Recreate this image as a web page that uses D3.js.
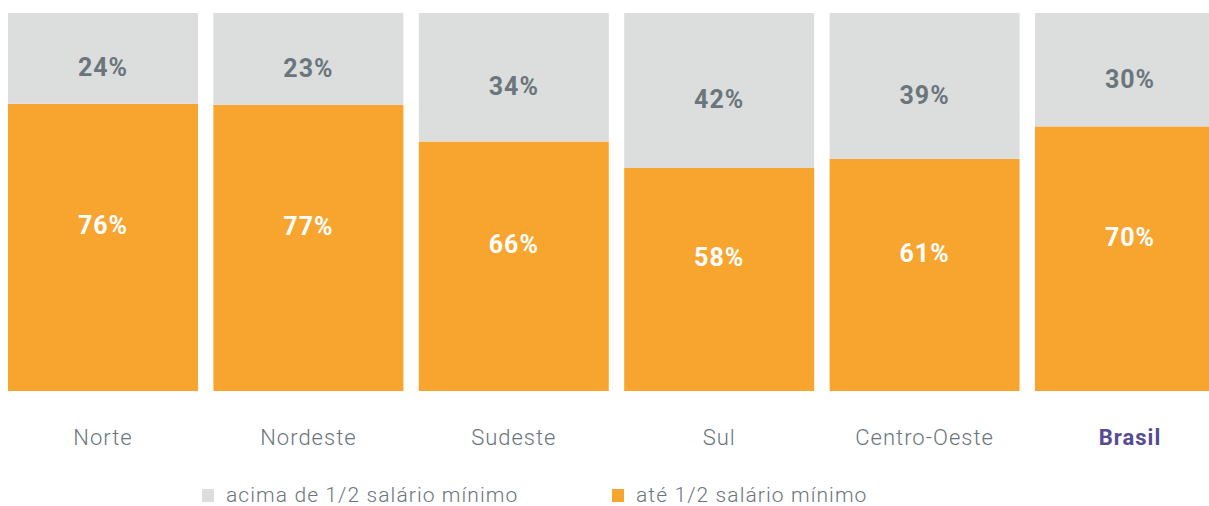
<!DOCTYPE html>
<html>
<head>
<meta charset="utf-8">
<script src="https://cdn.jsdelivr.net/npm/d3@7"></script>
<style>
  html, body { margin: 0; padding: 0; background: #fff; }
  svg { display: block; overflow: hidden; }
  text { font-family: Roboto, "DejaVu Sans", sans-serif; }
</style>
</head>
<body>
<svg id="chart"></svg>
<script>
// regiões e participação (%) — altura das barras, rótulos como impressos
const regions = ['Norte', 'Nordeste', 'Sudeste', 'Sul', 'Centro-Oeste', 'Brasil'];
const shareBelow = [76, 75.7, 66, 59, 61.4, 70];   // até 1/2 salário mínimo
const labelBelow = ['76%', '77%', '66%', '58%', '61%', '70%'];
const labelAbove = ['24%', '23%', '34%', '42%', '39%', '30%'];
const seriesNames = ['acima de 1/2 salário mínimo', 'até 1/2 salário mínimo'];

const width = 1209, height = 506;
const colors = { above: '#dcdddd', below: '#f8a530', text: '#6a767c', brasil: '#574b90' };

const svg = d3.select('#chart')
  .attr('width', width)
  .attr('height', height);

const x = d3.scaleBand()
  .domain(regions)
  .range([8, 1225])
  .paddingInner(0.075)
  .paddingOuter(0);

const y = d3.scaleLinear()
  .domain([0, 100])
  .range([391, 13]);

const rows = regions.map((r, i) => ({
  region: r,
  below: shareBelow[i],
  above: 100 - shareBelow[i],
  labelBelow: labelBelow[i],
  labelAbove: labelAbove[i]
}));

const stack = d3.stack().keys(['below', 'above'])(rows);

const groups = svg.append('g')
  .selectAll('g')
  .data(stack)
  .enter().append('g')
  .attr('fill', d => colors[d.key]);

groups.selectAll('rect')
  .data(d => d)
  .enter().append('rect')
  .attr('x', d => x(d.data.region))
  .attr('width', x.bandwidth())
  .attr('y', d => y(d[1]))
  .attr('height', d => y(d[0]) - y(d[1]));

// rótulos dentro das barras
const labels = svg.append('g');
labels.selectAll('.lbl-above')
  .data(stack[1])
  .enter().append('text')
  .attr('class', 'lbl-above')
  .attr('x', d => x(d.data.region) + x.bandwidth() / 2)
  .attr('y', d => (y(d[0]) + y(d[1])) / 2 + 18)
  .attr('text-anchor', 'middle')
  .attr('font-size', 25)
  .attr('font-weight', 700)
  .attr('letter-spacing', 1)
  .attr('fill', colors.text)
  .text(d => d.data.labelAbove);

labels.selectAll('.lbl-below')
  .data(stack[0])
  .enter().append('text')
  .attr('class', 'lbl-below')
  .attr('x', d => x(d.data.region) + x.bandwidth() / 2)
  .attr('y', d => (y(d[0]) + y(d[1])) / 2 - 13)
  .attr('text-anchor', 'middle')
  .attr('font-size', 25)
  .attr('font-weight', 700)
  .attr('letter-spacing', 1)
  .attr('fill', '#fff')
  .text(d => d.data.labelBelow);

// eixo x (só rótulos)
const xAxis = svg.append('g')
  .attr('transform', 'translate(0,391)')
  .call(d3.axisBottom(x).tickSize(0).tickPadding(34));
xAxis.select('.domain').remove();
xAxis.selectAll('text')
  .attr('font-family', 'Roboto, "DejaVu Sans", sans-serif')
  .attr('font-size', 22)
  .attr('font-weight', d => d === 'Brasil' ? 700 : 300)
  .attr('letter-spacing', 1)
  .attr('fill', d => d === 'Brasil' ? colors.brasil : colors.text)
  .attr('dy', 0)
  .attr('y', 54);

// legenda
const legendX = [202, 612];
const legend = svg.append('g')
  .selectAll('g')
  .data(seriesNames)
  .enter().append('g')
  .attr('transform', (d, i) => `translate(${legendX[i]},489)`);

legend.append('rect')
  .attr('width', 12)
  .attr('height', 13)
  .attr('fill', (d, i) => i === 0 ? colors.above : colors.below);

legend.append('text')
  .attr('x', 24)
  .attr('y', 13)
  .attr('font-size', 21)
  .attr('font-weight', 300)
  .attr('letter-spacing', 1.1)
  .attr('fill', colors.text)
  .text(d => d);
</script>
</body>
</html>
